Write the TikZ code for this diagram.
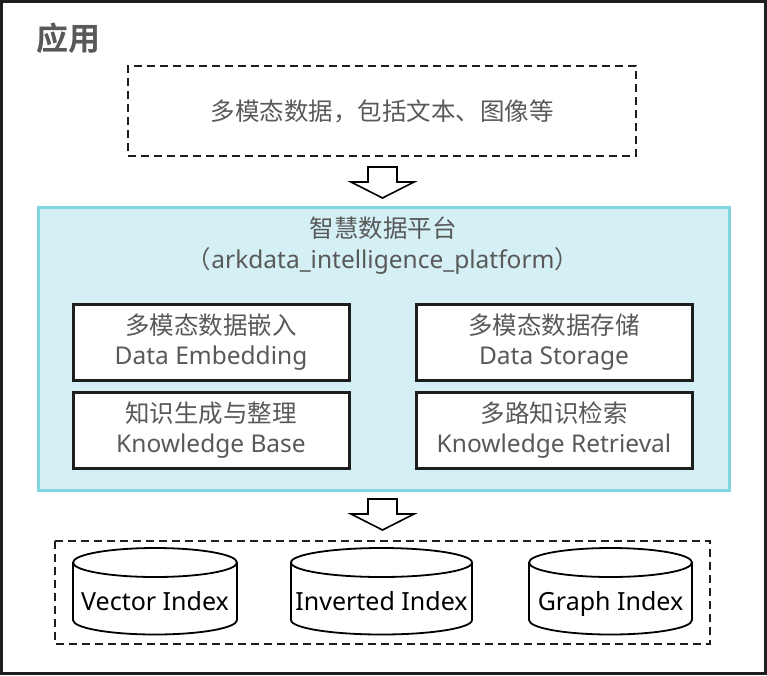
\documentclass[tikz,border=0pt]{standalone}
\usepackage{fontspec}
\setmainfont{Noto Sans}
\newfontfamily\cjk{Noto Sans CJK SC}
\newfontfamily\cjkbold{Noto Sans CJK SC Bold}
\definecolor{txtgray}{HTML}{595959}
\definecolor{cyanfill}{HTML}{D4F0F4}
\definecolor{cyanedge}{HTML}{7FD6DF}
\definecolor{edgedark}{HTML}{1E1E1E}
\begin{document}
\begin{tikzpicture}[x=1pt,y=-1pt,
  dashbox/.style={draw=edgedark,line width=2pt,dash pattern=on 8pt off 5pt},
  innerbox/.style={draw=edgedark,line width=3pt,fill=white,minimum width=276pt,minimum height=76pt,
    align=center,text=txtgray,font=\fontsize{24.5}{30.5}\selectfont,inner sep=0pt},
  blockarrow/.style={draw=black,line width=1.6pt,fill=white,line join=miter},
  cyl/.style={draw=black,line width=1.8pt,fill=white},
  cyltext/.style={text=black,font=\fontsize{25}{30}\selectfont,inner sep=0pt,anchor=base},
  plaintext/.style={text=txtgray,font=\fontsize{24.5}{30}\selectfont,inner sep=0pt,align=center}]
\useasboundingbox (0,0) rectangle (767,675);
% outer frame
\draw[draw=edgedark,line width=3pt] (1.5,1.5) rectangle (765.5,673.5);
\node[text=txtgray,font=\fontsize{32}{36}\selectfont\cjkbold,inner sep=0pt] (app) at (68,38) {应用};
% top source box
\node[dashbox,minimum width=508pt,minimum height=90pt,plaintext] (src) at (382,111) {\cjk 多模态数据，包括文本、图像等};
% arrow 1
\draw[blockarrow] (368,167) -- (397,167) -- (397,182) -- (414,182) -- (382.5,198) -- (351,182) -- (368,182) -- cycle;
% platform box
\draw[draw=cyanedge,fill=cyanfill,line width=3pt] (38.5,207.5) rectangle (729.5,490.5);
\node[plaintext] (plat) at (383,246) {\cjk 智慧数据平台\\[1pt]{\cjk （}arkdata\_intelligence\_platform{\cjk ）}};
\node[innerbox] (emb) at (211,342) {{\cjk 多模态数据嵌入}\\Data Embedding};
\node[innerbox] (kb) at (211,430) {{\cjk 知识生成与整理}\\Knowledge Base};
\node[innerbox] (sto) at (554,342) {{\cjk 多模态数据存储}\\Data Storage};
\node[innerbox] (ret) at (554,430) {{\cjk 多路知识检索}\\Knowledge Retrieval};
% arrow 2
\draw[blockarrow] (368,499) -- (397,499) -- (397,514) -- (414,514) -- (382.5,530) -- (351,514) -- (368,514) -- cycle;
% storage box
\draw[dashbox] (55,541) rectangle (710,644);
% cylinders
\foreach \l/\r/\n/\t in {73/237/vec/Vector Index, 291/472/inv/Inverted Index, 529/692/gra/Graph Index}{
  \pgfmathsetmacro{\cx}{(\l+\r)/2}
  \pgfmathsetmacro{\rx}{(\r-\l)/2}
  \draw[cyl] (\l,562.5) -- (\l,620) arc[start angle=180,end angle=360,x radius=\rx pt,y radius=14.5pt] -- (\r,562.5);
  \draw[cyl] (\cx,562.5) ellipse[x radius=\rx pt,y radius=14.5pt];
  \node[cyltext] (\n) at (\cx,610) {\t};
}
\end{tikzpicture}
\end{document}
